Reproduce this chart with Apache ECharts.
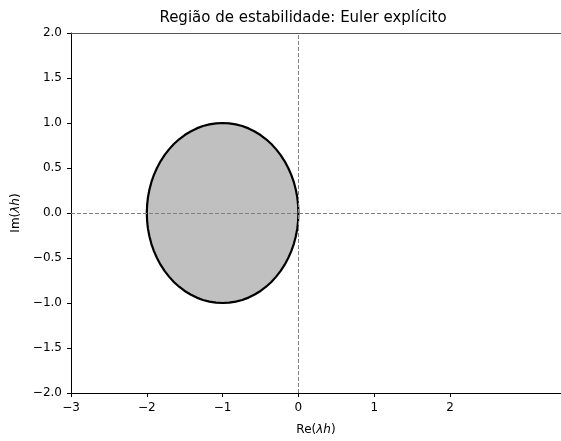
<!DOCTYPE html>
<html>
<head>
<meta charset="utf-8">
<script src="https://cdn.jsdelivr.net/npm/echarts@6/dist/echarts.min.js"></script>
<style>html,body{margin:0;padding:0;background:#fff;}#c{width:561px;height:441px;}</style>
</head>
<body>
<div id="c"></div>
<script>
// Boundary of the stability region |1 + λh| <= 1
var circleRe = [0.000, -0.004, -0.015, -0.034, -0.060, -0.094, -0.134, -0.181, -0.234, -0.293,
  -0.357, -0.426, -0.500, -0.577, -0.658, -0.741, -0.826, -0.913, -1.000,
  -1.087, -1.174, -1.259, -1.342, -1.423, -1.500, -1.574, -1.643, -1.707,
  -1.766, -1.819, -1.866, -1.906, -1.940, -1.966, -1.985, -1.996, -2.000,
  -1.996, -1.985, -1.966, -1.940, -1.906, -1.866, -1.819, -1.766, -1.707,
  -1.643, -1.574, -1.500, -1.423, -1.342, -1.259, -1.174, -1.087, -1.000,
  -0.913, -0.826, -0.741, -0.658, -0.577, -0.500, -0.426, -0.357, -0.293,
  -0.234, -0.181, -0.134, -0.094, -0.060, -0.034, -0.015, -0.004];
var circleIm = [0.000, 0.087, 0.174, 0.259, 0.342, 0.423, 0.500, 0.574, 0.643, 0.707,
  0.766, 0.819, 0.866, 0.906, 0.940, 0.966, 0.985, 0.996, 1.000,
  0.996, 0.985, 0.966, 0.940, 0.906, 0.866, 0.819, 0.766, 0.707,
  0.643, 0.574, 0.500, 0.423, 0.342, 0.259, 0.174, 0.087, 0.000,
  -0.087, -0.174, -0.259, -0.342, -0.423, -0.500, -0.574, -0.643, -0.707,
  -0.766, -0.819, -0.866, -0.906, -0.940, -0.966, -0.985, -0.996, -1.000,
  -0.996, -0.985, -0.966, -0.940, -0.906, -0.866, -0.819, -0.766, -0.707,
  -0.643, -0.574, -0.500, -0.423, -0.342, -0.259, -0.174, -0.087];
var xTicks = [-3, -2, -1, 0, 1, 2];
var yTicks = [-2, -1.5, -1, -0.5, 0, 0.5, 1, 1.5, 2];
var titleText = 'Região de estabilidade: Euler explícito';

var FONT = 'DejaVu Sans';
function fmtMinus(s){ return String(s).replace('-', '\u2212'); }

var chart = echarts.init(document.getElementById('c'), null, {renderer: 'canvas'});
chart.setOption({
  animation: false,
  backgroundColor: '#ffffff',
  title: {
    text: titleText,
    left: 298,
    top: 6,
    textAlign: 'center',
    textStyle: {fontFamily: FONT, fontSize: 15, fontWeight: 'normal', color: '#000'}
  },
  grid: {left: 71, top: 33, right: 0, bottom: 45, containLabel: false},
  xAxis: [{
    type: 'value', min: -3, max: 3.464, position: 'bottom',
    axisLine: {show: true, onZero: false, lineStyle: {color: '#000', width: 1}},
    axisTick: {show: true, length: 4, customValues: xTicks, lineStyle: {color: '#000'}},
    axisLabel: {customValues: xTicks, formatter: function(v){ return fmtMinus(v); },
      fontFamily: FONT, fontSize: 12, color: '#000', margin: 9},
    splitLine: {show: false},
    name: '{n|Re(}{i|λh}{n|)}', nameLocation: 'middle', nameGap: 31,
    nameTextStyle: {fontFamily: FONT, fontSize: 12, color: '#000',
      rich: {n: {fontFamily: FONT, fontSize: 12, color: '#000'},
             i: {fontFamily: FONT, fontSize: 12, fontStyle: 'italic', color: '#000'}}}
  }, {
    type: 'value', min: -3, max: 3.464, position: 'top',
    axisLine: {show: true, onZero: false, lineStyle: {color: '#555', width: 1}},
    axisTick: {show: false}, axisLabel: {show: false}, splitLine: {show: false}
  }],
  yAxis: {
    type: 'value', min: -2, max: 2, interval: 0.5, position: 'left',
    axisLine: {show: true, onZero: false, lineStyle: {color: '#000', width: 1}},
    axisTick: {show: true, length: 4, lineStyle: {color: '#000'}},
    axisLabel: {formatter: function(v){ return fmtMinus(v.toFixed(1)); },
      fontFamily: FONT, fontSize: 12, color: '#000', margin: 9},
    splitLine: {show: false},
    name: '{n|Im(}{i|λh}{n|)}', nameLocation: 'middle', nameGap: 44, nameRotate: 90,
    nameTextStyle: {fontFamily: FONT, fontSize: 12, color: '#000',
      rich: {n: {fontFamily: FONT, fontSize: 12, color: '#000'},
             i: {fontFamily: FONT, fontSize: 12, fontStyle: 'italic', color: '#000'}}}
  },
  series: [{
    type: 'custom',
    xAxisIndex: 0,
    z: 2,
    data: [[-1, 0]],
    renderItem: function(params, api){
      var pts = circleRe.map(function(r, i){ return api.coord([r, circleIm[i]]); });
      return {
        type: 'polygon',
        shape: {points: pts},
        style: {fill: '#c0c0c0', stroke: '#000', lineWidth: 2.2, lineJoin: 'round'}
      };
    }
  }, {
    type: 'line',
    xAxisIndex: 0,
    z: 5,
    data: [],
    markLine: {
      silent: true,
      symbol: ['none', 'none'],
      label: {show: false},
      lineStyle: {color: '#808080', type: [4, 2], width: 1},
      data: [{xAxis: 0}, {yAxis: 0}]
    }
  }]
});
</script>
</body>
</html>
